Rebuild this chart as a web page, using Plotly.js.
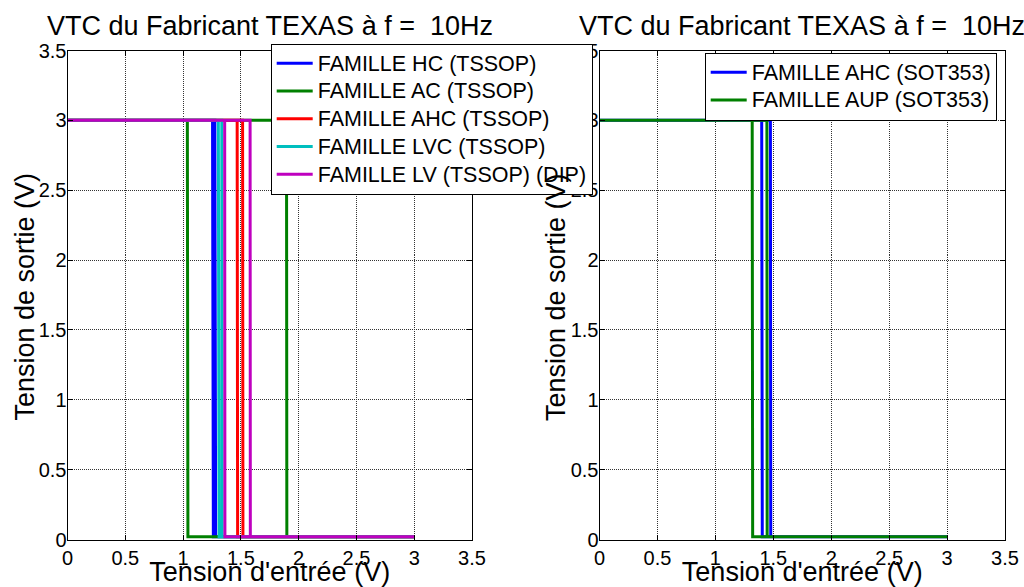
<!DOCTYPE html>
<html>
<head>
<meta charset="utf-8">
<script src="https://cdn.plot.ly/plotly-3.0.1.min.js"></script>
<style>
  html, body { margin: 0; padding: 0; background: #fff; }
  #chart { width: 1024px; height: 587px; }
</style>
</head>
<body>
<div id="chart"></div>
<script>
// ---------- data ----------
const titleText = "VTC du Fabricant TEXAS à f =\u00a0 10Hz";
const xLabel = "Tension d'entrée (V)";
const yLabel = "Tension de sortie (V)";

const tickVals = [0, 0.5, 1, 1.5, 2, 2.5, 3, 3.5];
const tickText = ["0", "0.5", "1", "1.5", "2", "2.5", "3", "3.5"];

// Left panel : TSSOP / DIP families (up sweep, then down sweep)
const leftNames = ["FAMILLE HC (TSSOP)", "FAMILLE AC (TSSOP)", "FAMILLE AHC (TSSOP)", "FAMILLE LVC (TSSOP)", "FAMILLE LV (TSSOP) (DIP)"];
const hcX  = [0, 1.275, 1.282, 3.0, 3.0, 1.262, 1.255, 0];
const hcY  = [3, 3, 0.02, 0.02, 0.02, 0.02, 3, 3];
const acX  = [0, 1.895, 1.898, 3.0, 3.0, 1.042, 1.037, 0];
const acY  = [3, 3, 0.02, 0.02, 0.02, 0.02, 3, 3];
const ahcX = [0, 1.515, 1.518, 3.0, 3.0, 1.472, 1.468, 0];
const ahcY = [3, 3, 0.02, 0.02, 0.02, 0.02, 3, 3];
const lvcX = [0, 1.335, 1.338, 3.0, 3.0, 1.312, 1.305, 0];
const lvcY = [3, 3, 0.02, 0.02, 0.02, 0.02, 3, 3];
const lvX  = [0, 1.58, 1.582, 3.0, 3.0, 1.362, 1.36, 0];
const lvY  = [3, 3, 0.02, 0.02, 0.02, 0.02, 3, 3];

// Right panel : SOT353 families
const rightNames = ["FAMILLE AHC (SOT353)", "FAMILLE AUP (SOT353)"];
const ahcSotX = [0, 1.475, 1.478, 3.0, 3.0, 1.405, 1.400, 0];
const ahcSotY = [3, 3, 0.02, 0.02, 0.02, 0.02, 3, 3];
const aupSotX = [0, 1.445, 1.447, 3.0, 3.0, 1.322, 1.318, 0];
const aupSotY = [3, 3, 0.02, 0.02, 0.02, 0.02, 3, 3];

// ---------- styles ----------
const FONT = "'Liberation Sans', Arial, Helvetica, sans-serif";
const C = { blue: "#0000ff", green: "#008000", red: "#ff0000", cyan: "#00bfbf", magenta: "#bf00bf" };
const LW = 3;
const LEGEND_TEXT_PX = 21.5;   // drawn size of legend text
const LEGEND_ROW_FONT = 19;    // controls legend row spacing

function legendName(s) {
  return '<span style="font-size:' + LEGEND_TEXT_PX + 'px">' + s + '</span>';
}

function tr(x, y, name, color, xa, ya, legend) {
  return { type: "scatter", mode: "lines", x: x, y: y, name: legendName(name),
           line: { color: color, width: LW }, xaxis: xa, yaxis: ya, legend: legend,
           hoverinfo: "x+y" };
}

const data = [
  tr(hcX,  hcY,  leftNames[0], C.blue,    "x",  "y",  "legend"),
  tr(acX,  acY,  leftNames[1], C.green,   "x",  "y",  "legend"),
  tr(ahcX, ahcY, leftNames[2], C.red,     "x",  "y",  "legend"),
  tr(lvcX, lvcY, leftNames[3], C.cyan,    "x",  "y",  "legend"),
  tr(lvX,  lvY,  leftNames[4], C.magenta, "x",  "y",  "legend"),
  tr(ahcSotX, ahcSotY, rightNames[0], C.blue,  "x2", "y2", "legend2"),
  tr(aupSotX, aupSotY, rightNames[1], C.green, "x2", "y2", "legend2")
];

const GRIDDASH = "1px,1px";
const GRIDCOLOR = "#333";

function xAxis(domain, anchor) {
  return {
    domain: domain, anchor: anchor, range: [0, 3.5], autorange: false,
    tickmode: "array", tickvals: tickVals, ticktext: tickText,
    ticks: "inside", ticklen: 5, tickwidth: 1, tickcolor: "#000",
    showline: true, linecolor: "#000", linewidth: 1, mirror: "ticks",
    showgrid: true, gridcolor: GRIDCOLOR, gridwidth: 1, griddash: GRIDDASH,
    zeroline: false, tickfont: { family: FONT, size: 20, color: "#000" },
    title: { text: xLabel, font: { family: FONT, size: 27, color: "#000" } },
    automargin: false
  };
}
function yAxis(domain, anchor) {
  return {
    domain: domain, anchor: anchor, range: [0, 3.5], autorange: false,
    tickmode: "array", tickvals: tickVals, ticktext: tickText,
    ticks: "inside", ticklen: 5, tickwidth: 1, tickcolor: "#000",
    showline: true, linecolor: "#000", linewidth: 1, mirror: "ticks",
    showgrid: true, gridcolor: GRIDCOLOR, gridwidth: 1, griddash: GRIDDASH,
    zeroline: false, tickfont: { family: FONT, size: 20, color: "#000" },
    ticklabelstandoff: -4,
    automargin: false
  };
}

const W = 1024, H = 587;
const yDom = [(H - 539.5) / H, (H - 50.5) / H];
const xDomL = [67.5 / W, 472 / W];
const xDomR = [599.5 / W, 1005 / W];

const legendStyle = {
  bgcolor: "#fff", bordercolor: "#000", borderwidth: 1,
  font: { family: FONT, size: LEGEND_ROW_FONT, color: "#000" },
  xanchor: "left", yanchor: "top", tracegroupgap: 0, itemwidth: 36
};

const titleFont = { family: FONT, size: 27, color: "#000" };
const yTitleY = (H - 297) / H;

const layout = {
  width: W, height: H,
  margin: { l: 0, r: 0, t: 0, b: 0 },
  paper_bgcolor: "#fff", plot_bgcolor: "#fff",
  font: { family: FONT, color: "#000" },
  showlegend: true,
  xaxis: xAxis(xDomL, "y"),
  yaxis: yAxis(yDom, "x"),
  xaxis2: xAxis(xDomR, "y2"),
  yaxis2: yAxis(yDom, "x2"),
  legend: Object.assign({}, legendStyle, { x: 270.7 / W, y: (H - 43.5) / H }),
  legend2: Object.assign({}, legendStyle, { x: 704.7 / W, y: (H - 52.5) / H }),
  annotations: [
    { text: titleText, xref: "paper", yref: "paper", x: (xDomL[0] + xDomL[1]) / 2, y: (H - 26) / H,
      xanchor: "center", yanchor: "middle", showarrow: false, font: titleFont },
    { text: titleText, xref: "paper", yref: "paper", x: (xDomR[0] + xDomR[1]) / 2, y: (H - 26) / H,
      xanchor: "center", yanchor: "middle", showarrow: false, font: titleFont },
    { text: yLabel, xref: "paper", yref: "paper", x: 24.5 / W, y: yTitleY, textangle: -90,
      xanchor: "center", yanchor: "middle", showarrow: false, font: titleFont },
    { text: yLabel, xref: "paper", yref: "paper", x: 556 / W, y: yTitleY, textangle: -90,
      xanchor: "center", yanchor: "middle", showarrow: false, font: titleFont }
  ]
};

Plotly.newPlot("chart", data, layout, { staticPlot: true, displayModeBar: false });
</script>
</body>
</html>
